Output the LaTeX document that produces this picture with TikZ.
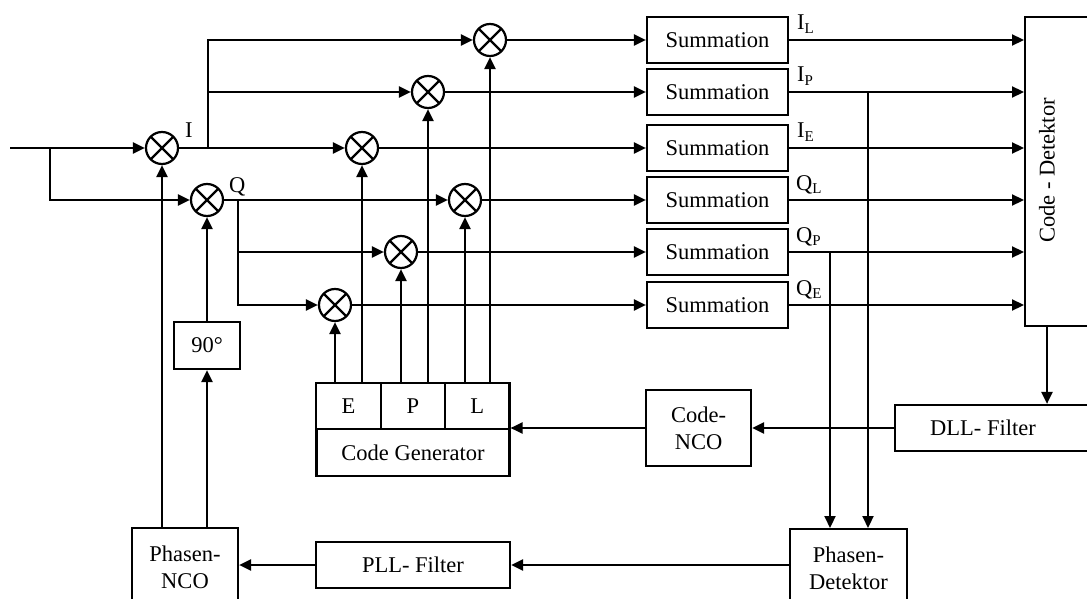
\documentclass[tikz,border=0pt]{standalone}
\usepackage{fontspec}
\setmainfont{Liberation Serif}
\usetikzlibrary{arrows.meta}
\newcommand{\mysub}[1]{\raisebox{-0.35ex}{\fontsize{15}{15}\selectfont #1}}
\begin{document}
\begin{tikzpicture}[x=1pt,y=-1pt,line width=2.2pt,
  font=\fontsize{22.5}{27}\selectfont,
  arr/.style={-{Triangle[length=12pt,width=11pt]}},
  mix/.style={circle,draw,minimum size=32pt,inner sep=0pt,
    path picture={\draw[line width=2.2pt] (path picture bounding box.north west)--(path picture bounding box.south east)
      (path picture bounding box.north east)--(path picture bounding box.south west);}},
  blk/.style={draw,inner sep=0pt,align=center},
  lbl/.style={anchor=base west,inner sep=0pt}]
\useasboundingbox (0,0) rectangle (1087,599);
\clip (0,0) rectangle (1087,599);
% mixers
\node[mix] (mI) at (162,148) {};
\node[mix] (mQ) at (207,200) {};
\node[mix] (mIL) at (490,40) {};
\node[mix] (mIP) at (428,92) {};
\node[mix] (mIE) at (362,148) {};
\node[mix] (mQL) at (465,200) {};
\node[mix] (mQP) at (401,252) {};
\node[mix] (mQE) at (335,305) {};
% summation boxes
\node[blk,minimum width=141pt,minimum height=46pt] (s1) at (717.5,40) {Summation};
\node[blk,minimum width=141pt,minimum height=46pt] (s2) at (717.5,92) {Summation};
\node[blk,minimum width=141pt,minimum height=46pt] (s3) at (717.5,148) {Summation};
\node[blk,minimum width=141pt,minimum height=46pt] (s4) at (717.5,200) {Summation};
\node[blk,minimum width=141pt,minimum height=46pt] (s5) at (717.5,252) {Summation};
\node[blk,minimum width=141pt,minimum height=46pt] (s6) at (717.5,305) {Summation};
% code detector
\node[draw,minimum width=90pt,minimum height=309pt,anchor=north west] (cd) at (1024,16) {};
\node[rotate=90] (cdt) at (1047,170.5) {Code - Detektor};
% DLL filter
\node[draw,minimum width=200pt,minimum height=46pt,anchor=west] (dll) at (894,428) {};
\node (dllt) at (983,428) {DLL- Filter};
% Code NCO
\node[blk,minimum width=105pt,minimum height=76pt] (cnco) at (698.5,428) {Code-\\NCO};
% Code generator
\node[blk,minimum width=64.3pt,minimum height=46pt] (cgE) at (348.5,406) {E};
\node[blk,minimum width=64.3pt,minimum height=46pt] (cgP) at (413,406) {P};
\node[blk,minimum width=64.3pt,minimum height=46pt] (cgL) at (477.3,406) {L};
\node[blk,minimum width=193pt,minimum height=47pt] (cg) at (413,452.5) {Code Generator};
% bottom row
\node[blk,minimum width=194pt,minimum height=46pt] (pll) at (413,565) {PLL- Filter};
\node[blk,minimum width=106pt,minimum height=78pt,anchor=north] (pnco) at (185,527) {Phasen-\\NCO};
\node[blk,minimum width=117pt,minimum height=78pt,anchor=north] (pd) at (848.5,528) {Phasen-\\Detektor};
\node[blk,minimum width=66pt,minimum height=47pt] (n90) at (207,345.5) {90°};
% labels
\node[lbl] (lI) at (184,138) {I};
\node[lbl] (lQ) at (228,192) {Q};
\node[lbl] (lIL) at (796,30) {I\mysub{L}};
\node[lbl] (lIP) at (796,82) {I\mysub{P}};
\node[lbl] (lIE) at (796,138) {I\mysub{E}};
\node[lbl] (lQL) at (795,190) {Q\mysub{L}};
\node[lbl] (lQP) at (795,242) {Q\mysub{P}};
\node[lbl] (lQE) at (795,295) {Q\mysub{E}};
% coordinates
\coordinate (in) at (10,148);
\coordinate (b1) at (50,148);
\coordinate (ib) at (208,148);
\coordinate (qb) at (238,200);
\coordinate (tIP) at (868,92);
\coordinate (tQP) at (830,252);
% input
\draw[arr] (in) -- (mI.west);
\draw[arr] (b1) |- (mQ.west);
% I branch
\draw (mI.east) -- (ib);
\draw[arr] (ib) -- (mIE.west);
\draw[arr] (ib) |- (mIL.west);
\draw[arr] (ib |- mIP.west) -- (mIP.west);
% Q branch
\draw (mQ.east) -- (qb);
\draw[arr] (qb) -- (mQL.west);
\draw[arr] (qb) |- (mQE.west);
\draw[arr] (qb |- mQP.west) -- (mQP.west);
% mixers to summation
\draw[arr] (mIL.east) -- (s1.west);
\draw[arr] (mIP.east) -- (s2.west);
\draw[arr] (mIE.east) -- (s3.west);
\draw[arr] (mQL.east) -- (s4.west);
\draw[arr] (mQP.east) -- (s5.west);
\draw[arr] (mQE.east) -- (s6.west);
% summation to code detector
\draw[arr] (s1.east) -- (s1.east -| cd.west);
\draw[arr] (s2.east) -- (s2.east -| cd.west);
\draw[arr] (s3.east) -- (s3.east -| cd.west);
\draw[arr] (s4.east) -- (s4.east -| cd.west);
\draw[arr] (s5.east) -- (s5.east -| cd.west);
\draw[arr] (s6.east) -- (s6.east -| cd.west);
% taps to phase detector
\draw[arr] (tIP) -- (tIP |- pd.north);
\draw[arr] (tQP) -- (tQP |- pd.north);
% code generator to mixers
\draw[arr] (mQE |- cgE.north) -- (mQE.south);
\draw[arr] (mIE |- cgE.north) -- (mIE.south);
\draw[arr] (mQP |- cgP.north) -- (mQP.south);
\draw[arr] (mIP |- cgP.north) -- (mIP.south);
\draw[arr] (mQL |- cgL.north) -- (mQL.south);
\draw[arr] (mIL |- cgL.north) -- (mIL.south);
% loops
\draw[arr] (cdt |- cd.south) -- (cdt |- dll.north);
\draw[arr] (dll.west) -- (cnco.east);
\draw[arr] (cnco.west) -- (cnco.west -| cgL.east);
\draw[arr] (pd.west |- pll.east) -- (pll.east);
\draw[arr] (pll.west) -- (pll.west -| pnco.east);
\draw[arr] (mI |- pnco.north) -- (mI.south);
\draw[arr] (n90 |- pnco.north) -- (n90.south);
\draw[arr] (n90.north) -- (mQ.south);
\end{tikzpicture}
\end{document}
